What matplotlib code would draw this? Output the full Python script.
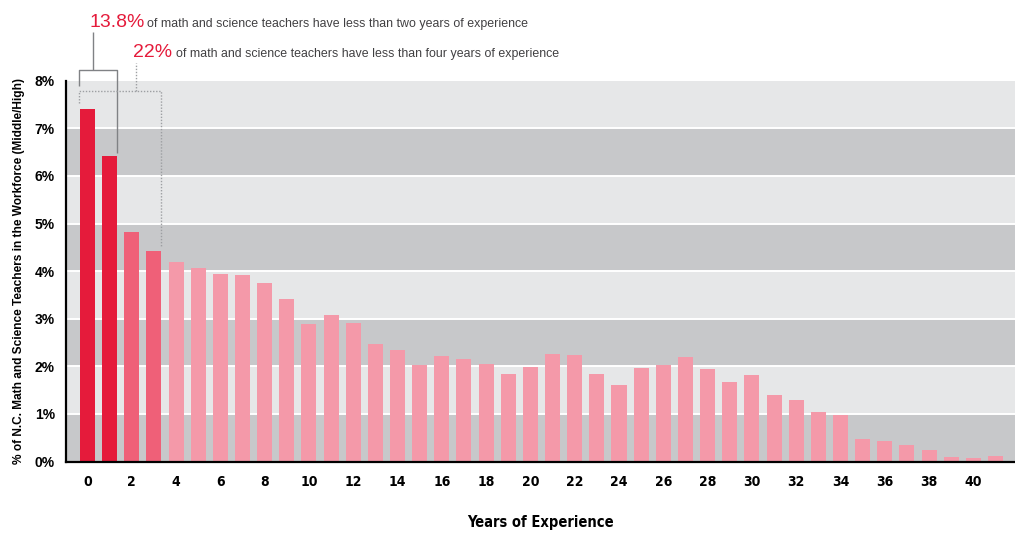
import numpy as np
import matplotlib
matplotlib.use("Agg")
import matplotlib.pyplot as plt

# share of N.C. middle/high math & science teachers by years of experience
years = np.arange(42)
pct = [7.40, 6.42, 4.82, 4.42, 4.19, 4.07, 3.94, 3.92, 3.75, 3.41,
       2.89, 3.08, 2.91, 2.47, 2.34, 2.03, 2.22, 2.15, 2.05, 1.84,
       1.99, 2.26, 2.24, 1.84, 1.61, 1.97, 2.03, 2.20, 1.94, 1.67,
       1.82, 1.40, 1.29, 1.04, 0.98, 0.47, 0.43, 0.35, 0.24, 0.09,
       0.07, 0.11]
xticks = list(range(0, 41, 2))
yticks = list(range(0, 9))

RED = "#e51b3b"
MID = "#ef6078"
PINK = "#f499a9"
DARK_BAND = "#c7c8ca"
LIGHT_BAND = "#e6e7e8"
TXT = "#414042"

plain = ["Liberation Sans", "DejaVu Sans"]
cond = dict(family="DejaVu Sans", fontstretch="condensed", fontweight="bold")

fig = plt.figure(figsize=(10.15, 5.33), dpi=100)
ax = fig.add_axes([0.065, 0.1341, 0.935, 0.7145])

# alternating horizontal bands, one per percent
for k in range(8):
    ax.axhspan(k, k + 1, color=DARK_BAND if k % 2 == 0 else LIGHT_BAND, lw=0, zorder=0)
for k in range(1, 8):
    ax.axhline(k, color="white", lw=1.4, zorder=1)

colors = [RED if y < 2 else MID if y < 4 else PINK for y in years]
ax.bar(years, pct, width=0.68, color=colors, zorder=2)

ax.set_xlim(-0.97, 41.88)
ax.set_ylim(0, 8)
ax.set_xticks(xticks)
ax.set_xticklabels([str(t) for t in xticks], fontsize=10, **cond)
ax.set_yticks(yticks)
ax.set_yticklabels([f"{t}%" for t in yticks], family=plain, fontweight="bold", fontsize=10)
ax.tick_params(axis="x", length=0, pad=10)
ax.tick_params(axis="y", length=0, pad=8)

for s in ["top", "right"]:
    ax.spines[s].set_visible(False)
for s in ["left", "bottom"]:
    ax.spines[s].set_linewidth(1.6)
    ax.spines[s].set_color("black")
    ax.spines[s].set_zorder(5)

fig.text(0.5325, 1 - 522.7 / 533, "Years of Experience", ha="center", va="center",
         fontsize=10.5, **cond)
ax.set_ylabel("% of N.C. Math and Science Teachers in the Workforce (Middle/High)",
              family=plain, fontweight="bold", fontsize=8.6, labelpad=7)

# bracket over the first two years
lk = dict(color="#808285", lw=1.0, clip_on=False, zorder=6, solid_capstyle="butt")
ax.plot([-0.36, -0.36, 1.34, 1.34], [7.89, 8.22, 8.22, pct[1] + 0.06], **lk)
ax.plot([0.26, 0.26], [8.22, 9.03], **lk)

# dotted bracket over the first four years
dk = dict(color="#9d9fa2", lw=1.0, ls=(0, (1, 1.2)), clip_on=False, zorder=6)
ax.plot([-0.36, -0.36, 3.34, 3.34], [7.53, 7.79, 7.79, pct[3] + 0.09], **dk)
ax.plot([2.19, 2.19], [7.79, 8.38], **dk)

fig.text(0.088, 0.950, "13.8%", color=RED, fontsize=14, family=plain, va="baseline")
fig.text(0.1448, 0.950, "of math and science teachers have less than two years of experience",
         color=TXT, fontsize=8.9, family=plain, va="baseline")
fig.text(0.1307, 0.8925, "22%", color=RED, fontsize=14, family=plain, va="baseline")
fig.text(0.1731, 0.8925, "of math and science teachers have less than four years of experience",
         color=TXT, fontsize=8.9, family=plain, va="baseline")

fig.savefig("out.png", dpi=100)
